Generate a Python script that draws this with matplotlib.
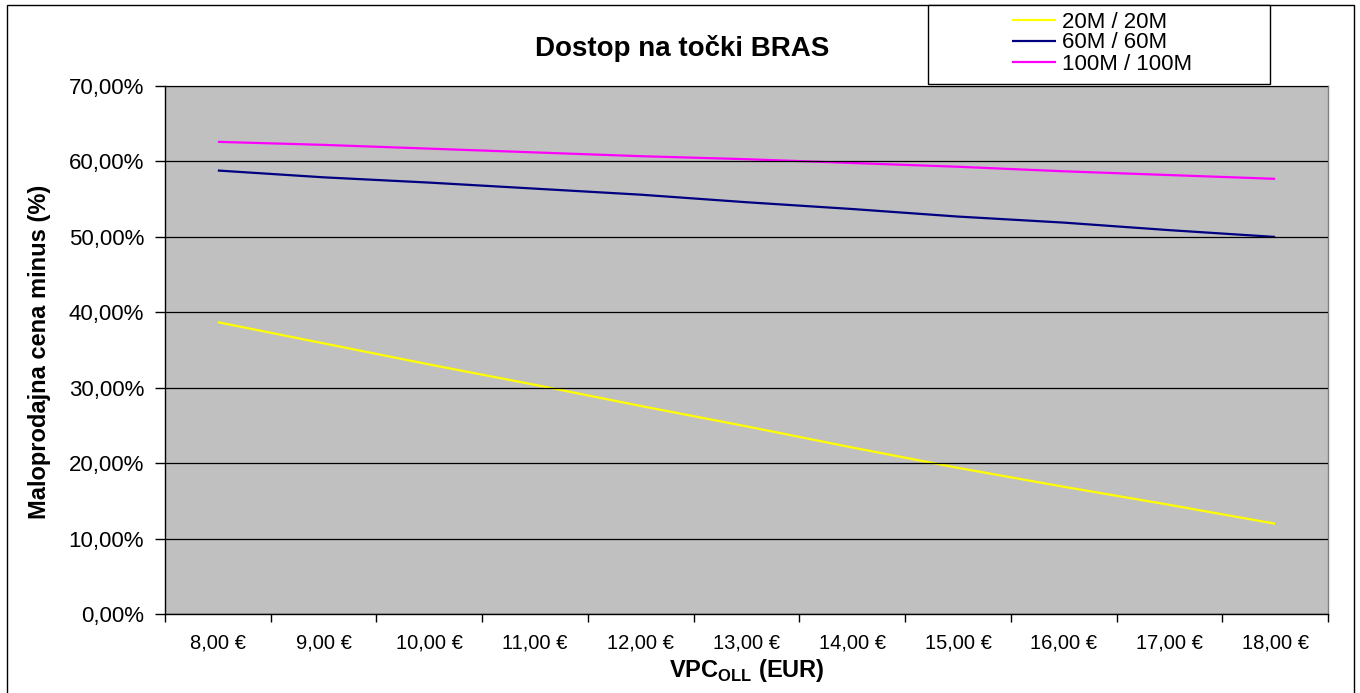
import matplotlib
matplotlib.use("Agg")
import matplotlib.pyplot as plt
from matplotlib.patches import Rectangle
from matplotlib.ticker import FixedLocator, FuncFormatter

plt.rcParams['font.family'] = ['Liberation Sans', 'DejaVu Sans']
plt.rcParams['mathtext.fontset'] = 'custom'
plt.rcParams['mathtext.rm'] = 'Liberation Sans'
plt.rcParams['mathtext.bf'] = 'Liberation Sans:bold'

# ---- data ----
categories = ["8,00 €", "9,00 €", "10,00 €", "11,00 €", "12,00 €", "13,00 €",
              "14,00 €", "15,00 €", "16,00 €", "17,00 €", "18,00 €"]
s20 = [38.7, 35.9, 33.1, 30.4, 27.6, 24.9, 22.1, 19.4, 16.9, 14.5, 12.0]
s60 = [58.8, 57.9, 57.2, 56.4, 55.6, 54.6, 53.7, 52.7, 51.9, 50.9, 50.0]
s100 = [62.6, 62.2, 61.7, 61.2, 60.7, 60.3, 59.8, 59.3, 58.7, 58.2, 57.7]
series_names = ["20M / 20M", "60M / 60M", "100M / 100M"]
series_colors = ["#FFFF00", "#000080", "#FF00FF"]
yticks = [0, 10, 20, 30, 40, 50, 60, 70]

W, H = 1360, 693
fig = plt.figure(figsize=(W / 100, H / 100), dpi=100)
fig.patch.set_facecolor('white')

L, R, T, B = 165, 1328, 86, 614.3
ax = fig.add_axes([L / W, 1 - B / H, (R - L) / W, (B - T) / H])
ax.set_facecolor('#C0C0C0')

x = list(range(len(categories)))
for vals, name, col in zip([s20, s60, s100], series_names, series_colors):
    ax.plot(x, vals, color=col, lw=1.6, label=name, solid_capstyle='butt')

ax.set_xlim(-0.5, len(categories) - 0.5)
ax.set_ylim(0, 70)
ax.set_yticks(yticks)
ax.yaxis.set_major_formatter(FuncFormatter(lambda v, p: f"{v:.2f}%".replace('.', ',')))
ax.set_xticks(x)
ax.set_xticklabels(categories)
ax.xaxis.set_minor_locator(FixedLocator([i - 0.5 for i in range(len(categories) + 1)]))

ax.tick_params(axis='x', which='major', length=0, pad=14, labelsize=14.5)
ax.tick_params(axis='x', which='minor', length=6, width=1, direction='out')
ax.tick_params(axis='y', which='major', length=7, width=1, direction='out', pad=8, labelsize=16)

ax.yaxis.grid(True, color='black', lw=0.9)
ax.set_axisbelow(False)
for line in ax.get_ygridlines():
    line.set_zorder(1)

for s in ['left', 'bottom']:
    ax.spines[s].set_color('black')
    ax.spines[s].set_linewidth(1)
for s in ['top', 'right']:
    ax.spines[s].set_color('#808080')
    ax.spines[s].set_linewidth(1)

# titles / labels
fig.text(682 / W, 1 - 48 / H, "Dostop na točki BRAS", ha='center', va='center',
         fontsize=20, fontweight='bold')
fig.text(40 / W, 1 - 352 / H, "Maloprodajna cena minus (%)", rotation=90,
         ha='center', va='center', fontsize=17, fontweight='bold')
fig.text((L + R) / 2 / W, 1 - 670 / H, r"VPC$_{\mathbf{OLL}}$ (EUR)", ha='center',
         va='center', fontsize=17, fontweight='bold')

# legend frame + legend
fig.patches.append(Rectangle((928 / W, 1 - 84 / H), (1270 - 928) / W, (84 - 5) / H,
                             transform=fig.transFigure, facecolor='white',
                             edgecolor='black', lw=1, zorder=2))
leg = fig.legend(loc='center', bbox_to_anchor=(1102 / W, 1 - 43 / H), frameon=False,
                 fontsize=16, labelspacing=0.0, handlelength=2.0, handletextpad=0.25,
                 borderpad=0)
leg.set_zorder(3)

# outer border
fig.patches.append(Rectangle((7 / W, -0.01), (1354 - 7) / W, 1 - 5 / H + 0.01,
                             transform=fig.transFigure, facecolor='none',
                             edgecolor='black', lw=1, zorder=1))

fig.savefig("out.png", dpi=100)
